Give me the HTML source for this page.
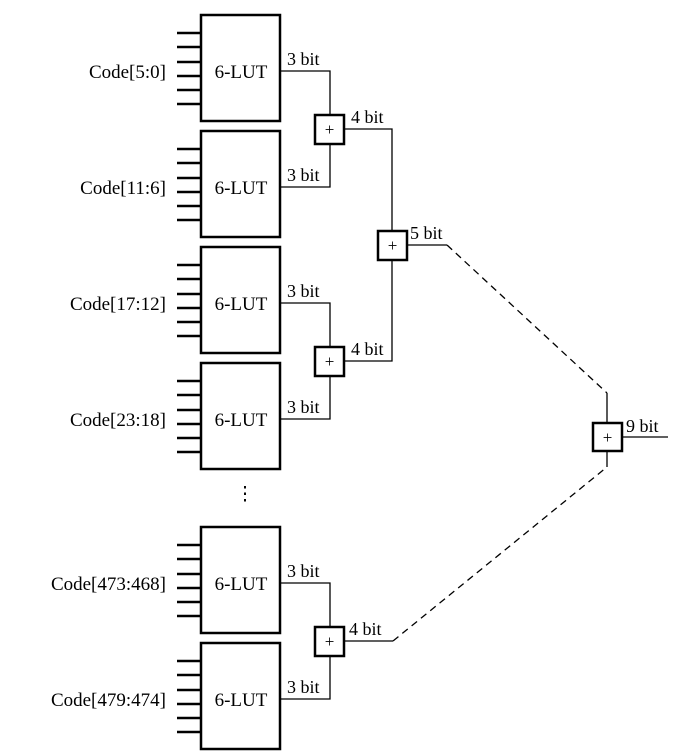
<!DOCTYPE html>
<html><head><meta charset="utf-8"><style>html,body{margin:0;padding:0;background:#fff}svg{display:block}</style></head>
<body>
<svg width="700" height="751" viewBox="0 0 700 751" xmlns="http://www.w3.org/2000/svg" font-family="Liberation Serif, serif" fill="none" stroke="#000">
<g id="luts">
</g>
<!-- LUT boxes -->
<g stroke-width="2.5">
<rect x="201" y="15" width="79" height="106"/>
<rect x="201" y="131" width="79" height="106"/>
<rect x="201" y="247" width="79" height="106"/>
<rect x="201" y="363" width="79" height="106"/>
<rect x="201" y="527" width="79" height="106"/>
<rect x="201" y="643" width="79" height="106"/>
</g>
<!-- pins -->
<g stroke-width="2.5">
<path d="M177 33H201M177 47H201M177 62H201M177 76H201M177 90H201M177 104H201"/>
<path d="M177 149H201M177 163H201M177 178H201M177 192H201M177 206H201M177 220H201"/>
<path d="M177 265H201M177 279H201M177 294H201M177 308H201M177 322H201M177 336H201"/>
<path d="M177 381H201M177 395H201M177 410H201M177 424H201M177 438H201M177 452H201"/>
<path d="M177 545H201M177 559H201M177 574H201M177 588H201M177 602H201M177 616H201"/>
<path d="M177 661H201M177 675H201M177 690H201M177 704H201M177 718H201M177 732H201"/>
</g>
<!-- connections -->
<g stroke-width="1.3">
<path d="M280 71H330V115M280 187H330V144"/>
<path d="M280 303H330V347M280 419H330V376"/>
<path d="M280 583H330V627M280 699H330V656"/>
<path d="M344 129H392V231M344 361H392V260"/>
<path d="M407 245H447M344 641H393"/>
<path d="M607 393V423M607 451V467M622 437H668"/>
</g>
<g stroke-width="1.3" stroke-dasharray="7,5">
<path d="M447 245L607 393"/>
<path d="M393 641L607 467"/>
</g>
<!-- adders -->
<g stroke-width="2.5">
<rect x="315" y="115" width="29" height="29"/>
<rect x="315" y="347" width="29" height="29"/>
<rect x="315" y="627" width="29" height="29"/>
<rect x="378" y="231" width="29" height="29"/>
<rect x="593" y="423" width="29" height="28"/>
</g>
<g fill="#000" stroke="none" font-size="19">
<g text-anchor="middle" font-size="17">
<text x="329.5" y="135">+</text><text x="329.5" y="367">+</text><text x="329.5" y="647">+</text>
<text x="392.5" y="251">+</text><text x="607.5" y="443">+</text>
</g>
<g text-anchor="middle">
<text x="241" y="78">6-LUT</text><text x="241" y="194">6-LUT</text><text x="241" y="310">6-LUT</text>
<text x="241" y="426">6-LUT</text><text x="241" y="590">6-LUT</text><text x="241" y="706">6-LUT</text>
</g>
<g text-anchor="end">
<text x="166" y="78">Code[5:0]</text><text x="166" y="194">Code[11:6]</text><text x="166" y="310">Code[17:12]</text>
<text x="166" y="426">Code[23:18]</text><text x="166" y="590">Code[473:468]</text><text x="166" y="706">Code[479:474]</text>
</g>
<g font-size="18">
<text x="287" y="65">3 bit</text><text x="287" y="181">3 bit</text><text x="287" y="297">3 bit</text>
<text x="287" y="413">3 bit</text><text x="287" y="577">3 bit</text><text x="287" y="693">3 bit</text>
<text x="351" y="123">4 bit</text><text x="351" y="355">4 bit</text><text x="349" y="635">4 bit</text>
<text x="410" y="239">5 bit</text><text x="626" y="432">9 bit</text>
</g>
<text x="245" y="500" text-anchor="middle" font-size="19">⋮</text>
</g>
</svg>
</body></html>
